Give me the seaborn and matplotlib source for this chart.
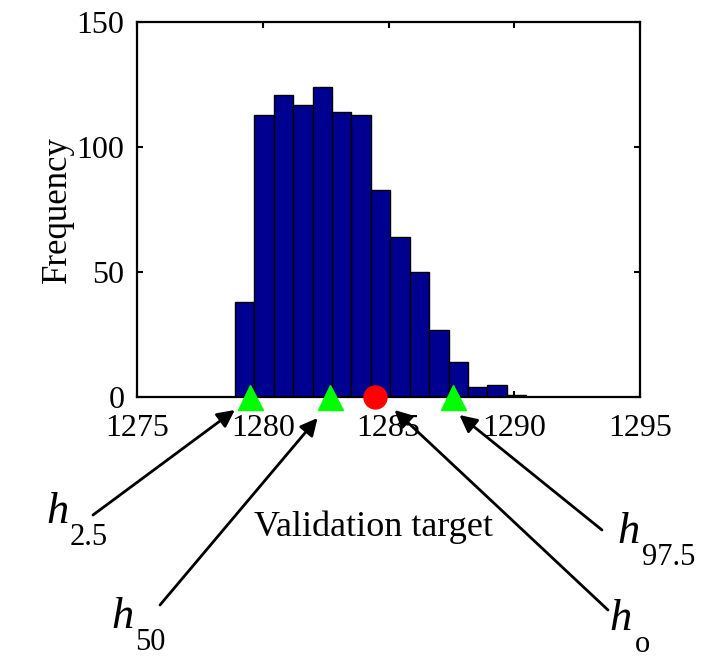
import numpy as np
import pandas as pd
import matplotlib
matplotlib.use("Agg")
import matplotlib.pyplot as plt
import seaborn as sns

# ---- data ----
bin_start = 1278.89
bin_width = 0.7725
counts = [38, 113, 121, 117, 124, 114, 113, 83, 64, 50, 27, 14, 4, 5, 1]
quantile_x = [1279.50, 1282.67, 1287.57]   # h2.5, h50, h97.5
observed_x = [1284.48]                      # h_o
xticks = [1275, 1280, 1285, 1290, 1295]
yticks = [0, 50, 100, 150]

# annotation geometry (labels + arrows)
arrow_tips = [(1278.89, -5.2), (1282.18, -8.4), (1287.82, -7.2), (1285.24, -5.2)]  # data coords
arrow_tails_px = [(93, 515), (160, 605), (602, 530), (608, 610)]                   # figure px from top-left
h_pos_px = [(46, 523), (111, 628), (617, 543), (609, 630)]
sub_pos_px = [(70, 545), (135, 650), (642, 565), (635, 652)]
sub_text = ["2.5", "50", "97.5", "o"]

W, H = 710, 666
sns.set_style("ticks")
plt.rcParams["font.family"] = ["Liberation Serif", "DejaVu Serif"]
plt.rcParams["text.color"] = "black"
plt.rcParams["axes.labelcolor"] = "black"
plt.rcParams["xtick.color"] = "black"
plt.rcParams["ytick.color"] = "black"
plt.rcParams["axes.edgecolor"] = "black"

fig = plt.figure(figsize=(W / 100, H / 100), dpi=100)
ax = fig.add_axes([137 / W, 1 - 397 / H, (640 - 137) / W, (397 - 22) / H])

edges = [bin_start + bin_width * i for i in range(len(counts) + 1)]
centers = [(a + b) / 2 for a, b in zip(edges[:-1], edges[1:])]
df = pd.DataFrame({"value": centers, "count": counts})
sns.histplot(data=df, x="value", weights="count", bins=edges, color="#000090",
             edgecolor="black", linewidth=1.0, alpha=1.0, ax=ax)

ax.plot(quantile_x, [0] * len(quantile_x), linestyle="none", marker="^",
        color="#00ff00", markersize=18, clip_on=False, zorder=5)
ax.plot(observed_x, [0] * len(observed_x), linestyle="none", marker="o",
        color="#ff0000", markersize=16.5, clip_on=False, zorder=5)

ax.set_xlim(1275, 1295)
ax.set_ylim(0, 150)
ax.set_xticks(xticks)
ax.set_yticks(yticks)
ax.tick_params(direction="in", length=4, width=1.5, top=True, right=True,
               labelsize=23, colors="black")
ax.tick_params(axis="x", pad=12)
ax.tick_params(axis="y", pad=9)
for s in ax.spines.values():
    s.set_visible(True)
    s.set_linewidth(1.6)
    s.set_color("black")
ax.set_xlabel("")
ax.set_ylabel("Frequency", fontsize=25, labelpad=2, color="black")

fig.text(374 / W, 1 - 536 / H, "Validation target", fontsize=26,
         ha="center", va="baseline", color="black")

for (tx, ty), (px, py) in zip(arrow_tips, arrow_tails_px):
    ax.annotate("", xy=(tx, ty), xycoords="data",
                xytext=(px, H - py), textcoords="figure pixels",
                arrowprops=dict(arrowstyle="-|>", color="black", lw=2.0,
                                mutation_scale=26, shrinkA=0, shrinkB=0),
                annotation_clip=False)

for (hx, hy), (sx, sy), t in zip(h_pos_px, sub_pos_px, sub_text):
    fig.text(hx / W, 1 - hy / H, "h", fontsize=32, style="italic",
             ha="left", va="baseline", color="black")
    fig.text(sx / W, 1 - sy / H, t, fontsize=22, ha="left", va="baseline",
             color="black")

fig.savefig("out.png", dpi=100, facecolor="white")
